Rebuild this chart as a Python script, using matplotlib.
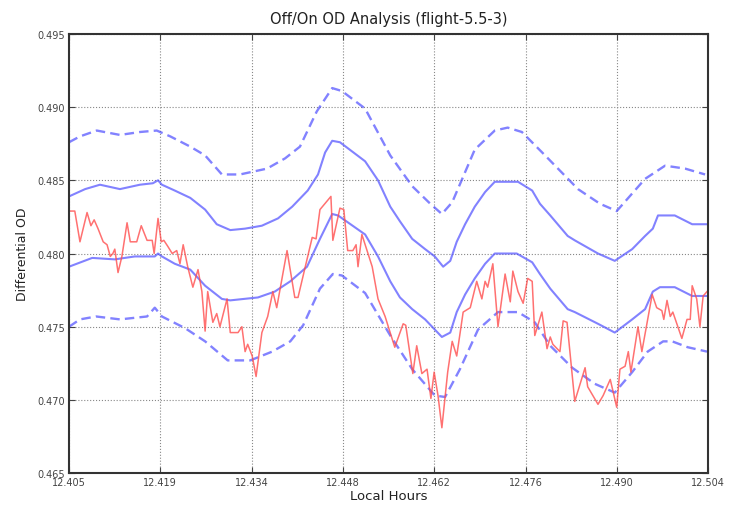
import matplotlib
matplotlib.use("Agg")
import matplotlib.pyplot as plt
from matplotlib.ticker import FormatStrFormatter
import numpy as np

# measured differential OD (red trace)
hours = [12.4052, 12.4061, 12.4069, 12.4080, 12.4086, 12.4091, 12.4097, 12.4105, 12.4111, 12.4116,
         12.4120, 12.4123, 12.4128, 12.4134, 12.4142, 12.4147, 12.4157, 12.4164, 12.4173, 12.4181,
         12.4184, 12.4190, 12.4195, 12.4199, 12.4205, 12.4212, 12.4219, 12.4224, 12.4229, 12.4236,
         12.4244, 12.4252, 12.4258, 12.4263, 12.4267, 12.4275, 12.4281, 12.4286, 12.4297, 12.4302,
         12.4314, 12.4320, 12.4325, 12.4329, 12.4336, 12.4342, 12.4351, 12.4360, 12.4368, 12.4374,
         12.4390, 12.4402, 12.4407, 12.4421, 12.4429, 12.4435, 12.4441, 12.4458, 12.4461, 12.4472,
         12.4478, 12.4484, 12.4492, 12.4497, 12.4500, 12.4506, 12.4522, 12.4531, 12.4542, 12.4557,
         12.4570, 12.4574, 12.4585, 12.4591, 12.4599, 12.4607, 12.4613, 12.4618, 12.4624, 12.4630,
         12.4639, 12.4646, 12.4653, 12.4663, 12.4674, 12.4684, 12.4692, 12.4697, 12.4701, 12.4709,
         12.4717, 12.4728, 12.4736, 12.4740, 12.4748, 12.4756, 12.4763, 12.4770, 12.4774, 12.4785,
         12.4793, 12.4798, 12.4802, 12.4813, 12.4818, 12.4824, 12.4836, 12.4852, 12.4856, 12.4872,
         12.4880, 12.4891, 12.4901, 12.4906, 12.4914, 12.4919, 12.4923, 12.4934, 12.4940, 12.4956,
         12.4963, 12.4971, 12.4974, 12.4979, 12.4984, 12.4988, 12.5002, 12.5010, 12.5015, 12.5018,
         12.5025, 12.5030, 12.5035, 12.5041]
od = [0.4829, 0.4829, 0.4808, 0.4828, 0.4819, 0.4823, 0.4817, 0.4808, 0.4806, 0.4798,
      0.4800, 0.4803, 0.4787, 0.4798, 0.4821, 0.4808, 0.4808, 0.4819, 0.4809, 0.4809,
      0.4800, 0.4824, 0.4808, 0.4809, 0.4805, 0.4800, 0.4802, 0.4793, 0.4806, 0.4791,
      0.4777, 0.4789, 0.4774, 0.4747, 0.4774, 0.4753, 0.4759, 0.4750, 0.4769, 0.4746,
      0.4746, 0.4750, 0.4733, 0.4738, 0.4730, 0.4716, 0.4746, 0.4757, 0.4774, 0.4763,
      0.4802, 0.4770, 0.4770, 0.4796, 0.4811, 0.4810, 0.4830, 0.4839, 0.4809, 0.4831,
      0.4830, 0.4802, 0.4802, 0.4806, 0.4791, 0.4813, 0.4791, 0.4769, 0.4757, 0.4736,
      0.4752, 0.4751, 0.4718, 0.4737, 0.4718, 0.4721, 0.4701, 0.4719, 0.4703, 0.4681,
      0.4719, 0.4740, 0.4730, 0.4760, 0.4763, 0.4781, 0.4769, 0.4781, 0.4777, 0.4793,
      0.4750, 0.4786, 0.4767, 0.4788, 0.4774, 0.4766, 0.4783, 0.4781, 0.4744, 0.4760,
      0.4735, 0.4743, 0.4738, 0.4733, 0.4754, 0.4753, 0.4699, 0.4722, 0.4709, 0.4697,
      0.4703, 0.4714, 0.4695, 0.4721, 0.4723, 0.4733, 0.4719, 0.4750, 0.4733, 0.4772,
      0.4763, 0.4761, 0.4755, 0.4768, 0.4757, 0.4760, 0.4742, 0.4755, 0.4755, 0.4778,
      0.4769, 0.4750, 0.4771, 0.4774]

# upper / lower 2-sigma bounds (dashed)
up2_hours = [12.4052, 12.4069, 12.4095, 12.4131, 12.4162, 12.4188, 12.4209, 12.4240, 12.4263, 12.4289,
             12.4317, 12.4359, 12.4387, 12.4410, 12.4436, 12.4460, 12.4475, 12.4511, 12.4550, 12.4584,
             12.4612, 12.4630, 12.4646, 12.4681, 12.4712, 12.4732, 12.4754, 12.4790, 12.4841, 12.4875,
             12.4901, 12.4945, 12.4976, 12.5007, 12.5038]
up2 = [0.4876, 0.4880, 0.4884, 0.4881, 0.4883, 0.4884, 0.4880, 0.4873, 0.4867, 0.4854,
       0.4854, 0.4858, 0.4865, 0.4873, 0.4897, 0.4913, 0.4911, 0.4899, 0.4867, 0.4846,
       0.4834, 0.4827, 0.4835, 0.4871, 0.4884, 0.4886, 0.4883, 0.4867, 0.4844, 0.4834,
       0.4829, 0.4851, 0.4860, 0.4858, 0.4854]

lo2_hours = [12.4052, 12.4069, 12.4094, 12.4131, 12.4173, 12.4185, 12.4196, 12.4232, 12.4263, 12.4298,
             12.4333, 12.4367, 12.4395, 12.4415, 12.4441, 12.4461, 12.4475, 12.4511, 12.4550, 12.4584,
             12.4619, 12.4635, 12.4658, 12.4686, 12.4717, 12.4748, 12.4774, 12.4798, 12.4832, 12.4867,
             12.4898, 12.4925, 12.4949, 12.4973, 12.4987, 12.5011, 12.5041]
lo2 = [0.4750, 0.4755, 0.4757, 0.4755, 0.4757, 0.4763, 0.4757, 0.4749, 0.4740, 0.4727,
       0.4727, 0.4733, 0.4740, 0.4751, 0.4776, 0.4786, 0.4785, 0.4773, 0.4744, 0.4721,
       0.4703, 0.4702, 0.4721, 0.4748, 0.4760, 0.4760, 0.4753, 0.4737, 0.4722, 0.4711,
       0.4705, 0.4719, 0.4733, 0.4740, 0.4740, 0.4736, 0.4733]

# upper / lower 1-sigma bounds (solid)
up1_hours = [12.4052, 12.4077, 12.4100, 12.4131, 12.4162, 12.4182, 12.4190, 12.4196, 12.4216, 12.4240,
             12.4263, 12.4281, 12.4302, 12.4325, 12.4351, 12.4376, 12.4398, 12.4422, 12.4438, 12.4449,
             12.4460, 12.4472, 12.4511, 12.4531, 12.4550, 12.4565, 12.4584, 12.4604, 12.4619, 12.4632,
             12.4643, 12.4653, 12.4666, 12.4681, 12.4697, 12.4712, 12.4748, 12.4770, 12.4782, 12.4798,
             12.4825, 12.4836, 12.4872, 12.4898, 12.4925, 12.4945, 12.4957, 12.4965, 12.4991, 12.5018,
             12.5041]
up1 = [0.4839, 0.4844, 0.4847, 0.4844, 0.4847, 0.4848, 0.4850, 0.4847, 0.4843, 0.4838,
       0.4830, 0.4820, 0.4816, 0.4817, 0.4819, 0.4824, 0.4832, 0.4843, 0.4854, 0.4869,
       0.4877, 0.4876, 0.4863, 0.4850, 0.4832, 0.4822, 0.4810, 0.4803, 0.4798, 0.4791,
       0.4795, 0.4808, 0.4820, 0.4832, 0.4842, 0.4849, 0.4849, 0.4843, 0.4834, 0.4826,
       0.4812, 0.4809, 0.4800, 0.4795, 0.4803, 0.4812, 0.4817, 0.4826, 0.4826, 0.4820,
       0.4820]

lo1_hours = [12.4052, 12.4088, 12.4123, 12.4154, 12.4185, 12.4190, 12.4196, 12.4216, 12.4240, 12.4263,
             12.4289, 12.4302, 12.4345, 12.4371, 12.4395, 12.4421, 12.4441, 12.4460, 12.4469, 12.4511,
             12.4531, 12.4550, 12.4565, 12.4584, 12.4604, 12.4630, 12.4643, 12.4653, 12.4666, 12.4681,
             12.4697, 12.4712, 12.4746, 12.4770, 12.4782, 12.4798, 12.4825, 12.4836, 12.4872, 12.4898,
             12.4925, 12.4945, 12.4957, 12.4968, 12.4991, 12.5018, 12.5041]
lo1 = [0.4791, 0.4797, 0.4796, 0.4798, 0.4798, 0.4800, 0.4798, 0.4793, 0.4789, 0.4778,
       0.4769, 0.4768, 0.4770, 0.4774, 0.4781, 0.4791, 0.4810, 0.4827, 0.4826, 0.4813,
       0.4798, 0.4781, 0.4770, 0.4762, 0.4755, 0.4743, 0.4746, 0.4760, 0.4772, 0.4783,
       0.4793, 0.4800, 0.4800, 0.4794, 0.4786, 0.4776, 0.4762, 0.4760, 0.4752, 0.4746,
       0.4755, 0.4762, 0.4774, 0.4777, 0.4777, 0.4771, 0.4771]

x_min, x_max = 12.4052, 12.5043

fig = plt.figure(figsize=(7.34, 5.06), dpi=100)
ax = fig.add_axes([0.094, 0.063, 0.871, 0.868])

blue = (0.3, 0.3, 1.0, 0.7)
dash = (4, 2.2)
ax.plot(up2_hours, up2, color=blue, lw=1.7, ls="--", dashes=dash)
ax.plot(lo2_hours, lo2, color=blue, lw=1.7, ls="--", dashes=dash)
ax.plot(up1_hours, up1, color=blue, lw=1.5)
ax.plot(lo1_hours, lo1, color=blue, lw=1.5)
ax.plot(hours, od, color=(1.0, 0.3, 0.3, 0.8), lw=1.1)

ax.set_xlim(x_min, x_max)
ax.set_ylim(0.465, 0.495)
ax.set_xticks(np.linspace(x_min, x_max, 8))
ax.set_yticks(np.arange(0.465, 0.4951, 0.005))
ax.xaxis.set_major_formatter(FormatStrFormatter("%.3f"))
ax.yaxis.set_major_formatter(FormatStrFormatter("%.3f"))
ax.tick_params(direction="in", top=True, right=True, labelsize=7, length=4, pad=3,
               colors="#444444")
ax.grid(True, color="#888888", ls=":", lw=0.8)
for s in ax.spines.values():
    s.set_linewidth(1.5)
    s.set_color("#333333")

ax.set_title("Off/On OD Analysis (flight-5.5-3)", fontsize=10.5, color="#222222", pad=8)
ax.set_xlabel("Local Hours", fontsize=9.5, color="#222222", labelpad=1)
ax.set_ylabel("Differential OD", fontsize=9, color="#222222", labelpad=6)

fig.savefig("out.png", dpi=100)
